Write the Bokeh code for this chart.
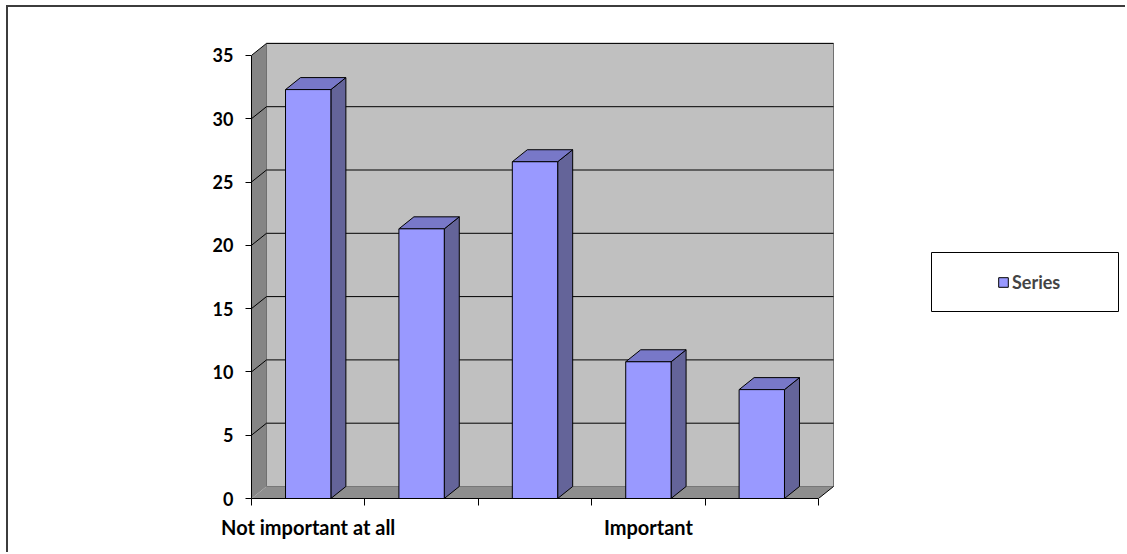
from bokeh.plotting import figure
from bokeh.models import (ColumnDataSource, FixedTicker, BoxAnnotation, Legend,
                          LegendItem, Range1d)
from bokeh.embed import file_html
from bokeh.resources import INLINE

# ---- data ----
categories = ["Not important at all", "", "", "Important", ""]
values = [32.3, 21.3, 26.6, 10.8, 8.6]
y_ticks = [0, 5, 10, 15, 20, 25, 30, 35]
series_name = "Series"

# ---- layout constants ----
OFF_X, OFF_Y = 8, 7          # page offset of the canvas (outer chart border)
W, H = 1127 - OFF_X, 554 - OFF_Y
FRAME_L = 251 - OFF_X
FRAME_B = 498 - OFF_Y
PX_X = 113.4
PX_Y = 12.66
DX = 15 / PX_X
DY = 12 / PX_Y
n = len(categories)
ymax = y_ticks[-1]
FONT = "Lato"

p = figure(width=W, height=H, output_backend="svg", toolbar_location=None,
           x_range=Range1d(0, (W - FRAME_L) / PX_X),
           y_range=Range1d(0, FRAME_B / PX_Y),
           min_border_left=FRAME_L, min_border_right=0,
           min_border_top=0, min_border_bottom=H - FRAME_B)
p.outline_line_color = None
p.grid.visible = False
p.background_fill_color = "white"
p.styles = {"margin-left": "6px", "margin-top": "5px",
            "border-left": "2px solid #3c3c3c", "border-top": "2px solid #3c3c3c"}

# side wall
p.patch([0, DX, DX, 0], [0, DY, ymax + DY, ymax], fill_color="#858585", line_color=None)
# back wall
p.quad(left=[DX], right=[n + DX], bottom=[DY], top=[ymax + DY],
       fill_color="#C0C0C0", line_color="#707070", line_width=1)
# floor
p.patch([0, n, n + DX, DX], [0, 0, DY, DY], fill_color="#8E8E8E", line_color=None)
p.line([DX, n + DX], [DY, DY], line_color="#777777", line_width=1)
p.line([n, n + DX], [0, DY], line_color="black", line_width=1)

# gridlines (side wall diagonal + back wall horizontal)
gx, gy = [], []
for t in y_ticks[1:]:
    gx.append([0, DX, n + DX])
    gy.append([t, t + DY, t + DY])
p.multi_line(gx, gy, line_color="black", line_width=1)

# bars
lefts = [i + 0.3 for i in range(n)]
rights = [i + 0.7 for i in range(n)]
src = ColumnDataSource(dict(left=lefts, right=rights, top=values,
                            bottom=[0] * n))
side_xs = [[r, r + DX, r + DX, r] for r in rights]
side_ys = [[0, DY, v + DY, v] for v in values]
top_xs = [[l, l + DX, r + DX, r] for l, r in zip(lefts, rights)]
top_ys = [[v, v + DY, v + DY, v] for v in values]
p.patches(side_xs, side_ys, fill_color="#646499", line_color="black", line_width=1)
p.patches(top_xs, top_ys, fill_color="#7878C8", line_color="black", line_width=1)
front = p.quad(left="left", right="right", top="top", bottom="bottom", source=src,
               fill_color="#9999FF", line_color="black", line_width=1)

# x axis
xa = p.xaxis[0]
xa.ticker = FixedTicker(ticks=[i + 0.5 for i in range(n)],
                        minor_ticks=list(range(n + 1)))
xa.major_label_overrides = {i + 0.5: categories[i] for i in range(n)}
xa.bounds = (0, n)
xa.major_tick_out = 0
xa.major_tick_in = 0
xa.minor_tick_out = 7
xa.minor_tick_in = 0
xa.minor_tick_line_color = "black"
xa.axis_line_color = "black"
xa.major_label_standoff = 9
xa.major_label_text_font = FONT
xa.major_label_text_font_style = "bold"
xa.major_label_text_font_size = "20px"
xa.major_label_text_color = "black"

# y axis
ya = p.yaxis[0]
ya.ticker = FixedTicker(ticks=y_ticks)
ya.bounds = (0, ymax)
ya.major_tick_out = 6
ya.major_tick_in = 0
ya.minor_tick_line_color = None
ya.axis_line_color = "black"
ya.major_tick_line_color = "black"
ya.major_label_standoff = 12
ya.major_label_text_font = FONT
ya.major_label_text_font_style = "bold"
ya.major_label_text_font_size = "18px"
ya.major_label_text_color = "black"

# legend box + legend
p.add_layout(BoxAnnotation(left=929 - OFF_X, right=1116 - OFF_X,
                           top=250 - OFF_Y, bottom=309 - OFF_Y,
                           left_units="canvas", right_units="canvas",
                           top_units="canvas", bottom_units="canvas",
                           fill_color="white", fill_alpha=1,
                           line_color="black", line_alpha=1, line_width=1))
legend = Legend(items=[LegendItem(label=series_name, renderers=[front])],
                location=(746, 205), glyph_width=12, glyph_height=12,
                padding=0, margin=0, spacing=0, label_standoff=3,
                border_line_color=None, background_fill_alpha=0,
                label_text_font=FONT, label_text_font_style="bold",
                label_text_font_size="18px")
p.add_layout(legend, "center")

open("out.html", "w").write(file_html(p, INLINE))
